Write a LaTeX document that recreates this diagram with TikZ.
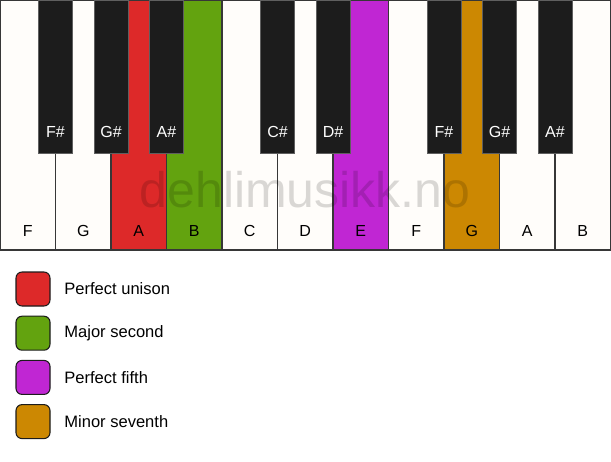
\documentclass[tikz,border=0pt]{standalone}
\usepackage{fontspec}
\setmainfont{Liberation Sans}
\usetikzlibrary{calc, positioning}
\definecolor{KeyWhite}{RGB}{255,253,250}
\definecolor{KeyBlack}{RGB}{28,28,28}
\definecolor{KeyEdge}{RGB}{55,55,55}
\definecolor{Unison}{RGB}{221,41,41}
\definecolor{Second}{RGB}{99,163,15}
\definecolor{Fifth}{RGB}{192,38,211}
\definecolor{Seventh}{RGB}{204,136,2}

\begin{document}
\begin{tikzpicture}[x = .75pt, y = -.75pt]%
    %
    \def\keywidth{41.625pt}% 55.5px
    \def\keyheight{187.5pt}% 250px
    %
    \tikzstyle{whitekey} = [rectangle, inner sep = 0pt, minimum width = \keywidth, minimum height = \keyheight, draw = KeyEdge, line width = 1pt]%
    \tikzstyle{blackkey} = [rectangle, inner sep = 0pt, minimum width = 25.5pt, minimum height = 114.75pt, fill = KeyBlack, draw = KeyEdge!80, line width = .6pt]%
    \tikzstyle{keylabel} = [inner sep = 0pt, font = \fontsize{12}{14}\selectfont]%
    \tikzstyle{legendbox} = [rectangle, rounded corners = 4.5pt, minimum size = 25.5pt, inner sep = 0pt, draw = KeyBlack, line width = .8pt]%
    \tikzstyle{legendtext} = [inner sep = 0pt, font = \fontsize{12.4}{14}\selectfont]%
    %
    \useasboundingbox (0, 0) rectangle (611, 461);%
    %
    % white keys
    \foreach \note/\col [count = \i from 0] in {F/KeyWhite, G/KeyWhite, A/Unison, B/Second, C/KeyWhite, D/KeyWhite, E/Fifth, F/KeyWhite, G/Seventh, A/KeyWhite, B/KeyWhite}{%
        \node [whitekey, fill = \col] (w\i) at ({27.75 + 55.5*\i}, 125) {};%
        \node [keylabel] (wl\i) at ([yshift = 15pt]w\i.south) {\note};%
    }%
    %
    % black keys, centred on the boundaries between white keys
    \foreach \note/\b in {F\#/1, G\#/2, A\#/3, C\#/5, D\#/6, F\#/8, G\#/9, A\#/10}{%
        \node [blackkey] (b\b) at ({55.5*\b}, 76.5) {};%
        \node [keylabel, text = white] (bl\b) at ([yshift = 15.75pt]b\b.south) {\note};%
    }%
    %
    \node [font = \fontsize{37.5}{40}\selectfont, text = black, text opacity = .15, anchor = base, inner sep = 0pt] (mark) at (305, 207) {dehlimusikk.no};%
    %
    % legend
    \node [legendbox, fill = Unison] (leg1) at (33, 289) {};%
    \node [legendbox, fill = Second] (leg2) at (33, 333.2) {};%
    \node [legendbox, fill = Fifth] (leg3) at (33, 377.4) {};%
    \node [legendbox, fill = Seventh] (leg4) at (33, 421.6) {};%
    %
    \node [legendtext, right = 10.2pt of leg1] (txt1) {Perfect unison};%
    \node [legendtext, right = 10.2pt of leg2] (txt2) {Major second};%
    \node [legendtext, right = 10.2pt of leg3] (txt3) {Perfect fifth};%
    \node [legendtext, right = 10.2pt of leg4] (txt4) {Minor seventh};%
\end{tikzpicture}
\end{document}
